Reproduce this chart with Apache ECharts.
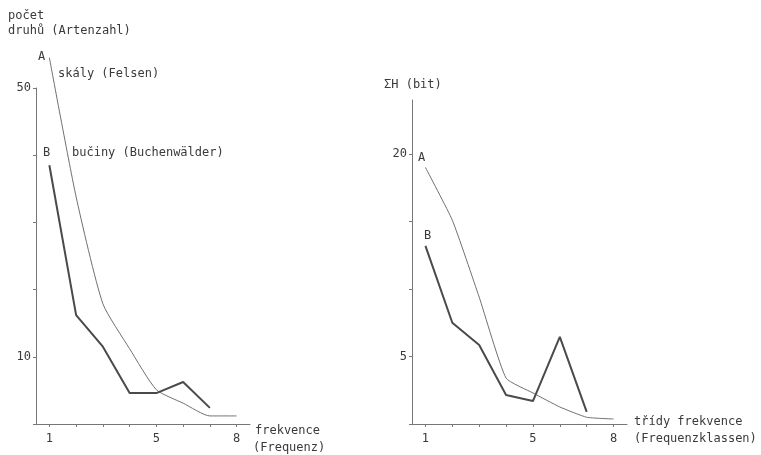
<!DOCTYPE html>
<html>
<head>
<meta charset="utf-8">
<script src="https://cdn.jsdelivr.net/npm/echarts@6/dist/echarts.min.js"></script>
<style>
html,body{margin:0;padding:0;background:#fff;}
#c{width:761px;height:455px;}
</style>
</head>
<body>
<div id="c"></div>
<script>
// Data
var classes = [1, 2, 3, 4, 5, 6, 7, 8];
var leftA = [54.5, 33.8, 17.9, 11.2, 5.1, 3.1, 1.2, 1.2];   // skály (Felsen), počet druhů
var leftB = [38.5, 16.2, 11.5, 4.6, 4.6, 6.25, 2.4];         // bučiny (Buchenwälder)
var rightA = [19.0, 15.1, 9.4, 3.4, 2.3, 1.26, 0.5, 0.37];   // ΣH (bit)
var rightB = [13.2, 7.5, 5.85, 2.15, 1.7, 6.45, 0.9];
var xTicks = [1, 2, 3, 4, 5, 6, 7, 8];
var xTickLabels = [1, 5, 8];
var leftYTicks = [0, 10, 20, 30, 40, 50];
var leftYLabels = [10, 50];
var rightYTicks = [0, 5, 10, 15, 20];
var rightYLabels = [5, 20];

function pairs(ys) { return ys.map(function (v, i) { return [classes[i], v]; }); }

var FONT = '"DejaVu Sans Mono", monospace';
var TXT = '#3a3a3a';
var AX = '#777';

function xAxis(gi) {
  return {
    type: 'value', gridIndex: gi, min: 0.5, max: 8.5,
    axisLine: { show: true, lineStyle: { color: AX, width: 1 } },
    axisTick: { show: true, length: 3, lineStyle: { color: AX }, customValues: xTicks },
    axisLabel: { color: TXT, fontFamily: FONT, fontSize: 12, margin: 9, customValues: xTickLabels },
    splitLine: { show: false }
  };
}
function yAxis(gi, max, ticks, labels) {
  return {
    type: 'value', gridIndex: gi, min: 0, max: max,
    axisLine: { show: true, lineStyle: { color: AX, width: 1 } },
    axisTick: { show: true, length: 3, lineStyle: { color: AX }, customValues: ticks },
    axisLabel: { color: TXT, fontFamily: FONT, fontSize: 12, margin: 5, customValues: labels },
    splitLine: { show: false }
  };
}
function txt(x, y, s, align) {
  return { type: 'text', left: x, top: y - 7, style: { text: s, fill: TXT, font: '12px ' + FONT, textAlign: align || 'left' } };
}

var chart = echarts.init(document.getElementById('c'));
chart.setOption({
  backgroundColor: '#ffffff',
  animation: false,
  grid: [
    { left: 36, top: 88, width: 214, bottom: 31 },
    { left: 412, top: 100, width: 215, bottom: 31 }
  ],
  xAxis: [xAxis(0), xAxis(1)],
  yAxis: [yAxis(0, 50, leftYTicks, leftYLabels), yAxis(1, 24, rightYTicks, rightYLabels)],
  series: [
    { type: 'line', xAxisIndex: 0, yAxisIndex: 0, data: pairs(leftA), showSymbol: false, clip: false, smooth: 0.2,
      lineStyle: { color: '#707070', width: 1 } },
    { type: 'line', xAxisIndex: 0, yAxisIndex: 0, data: pairs(leftB), showSymbol: false, clip: false,
      lineStyle: { color: '#4a4a4a', width: 2 } },
    { type: 'line', xAxisIndex: 1, yAxisIndex: 1, data: pairs(rightA), showSymbol: false, clip: false, smooth: 0.15,
      lineStyle: { color: '#707070', width: 1 } },
    { type: 'line', xAxisIndex: 1, yAxisIndex: 1, data: pairs(rightB), showSymbol: false, clip: false,
      lineStyle: { color: '#4a4a4a', width: 2 } }
  ],
  graphic: [
    txt(8, 17, 'počet'),
    txt(8, 32, 'druhů (Artenzahl)'),
    txt(38, 58, 'A'),
    txt(58, 75, 'skály (Felsen)'),
    txt(43, 154, 'B'),
    txt(72, 154, 'bučiny (Buchenwälder)'),
    txt(255, 432, 'frekvence'),
    txt(253, 449, '(Frequenz)'),
    txt(384, 86, 'ΣH (bit)'),
    txt(418, 159, 'A'),
    txt(424, 237, 'B'),
    txt(634, 423, 'třídy frekvence'),
    txt(634, 440, '(Frequenzklassen)')
  ]
});
</script>
</body>
</html>
